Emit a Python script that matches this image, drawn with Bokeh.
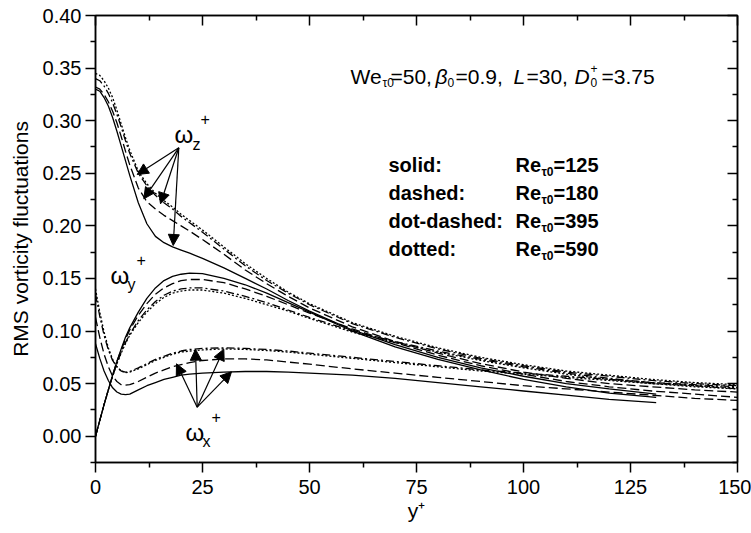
from bokeh.plotting import figure
from bokeh.models import Range1d, FixedTicker, LinearAxis, Label, Arrow, NormalHead, PrintfTickFormatter
from bokeh.embed import file_html
from bokeh.resources import INLINE

# ---------------- data ----------------
X_SOLID = [0, 1, 2, 3, 4, 5, 6, 7, 8, 10, 12, 14, 16, 18, 20, 22, 25, 30, 35, 40, 45, 50,
           60, 70, 80, 90, 100, 110, 120, 131]
X_OTHER = [0, 1, 2, 3, 4, 5, 6, 7, 8, 10, 12, 14, 16, 18, 20, 22, 25, 30, 35, 40, 45, 50,
           60, 70, 80, 90, 100, 110, 120, 130, 140, 150]

# omega_z+
WZ_125 = [0.330, 0.328, 0.322, 0.314, 0.303, 0.290, 0.276, 0.262, 0.248, 0.222, 0.202, 0.190,
          0.184, 0.180, 0.177, 0.174, 0.169, 0.160, 0.150, 0.140, 0.129, 0.119,
          0.101, 0.087, 0.075, 0.065, 0.057, 0.050, 0.045, 0.040]
WZ_180 = [0.332, 0.330, 0.325, 0.318, 0.309, 0.298, 0.285, 0.271, 0.258, 0.236, 0.223, 0.216,
          0.210, 0.205, 0.200, 0.195, 0.187, 0.173, 0.158, 0.145, 0.133, 0.122,
          0.104, 0.090, 0.079, 0.069, 0.061, 0.055, 0.050, 0.047, 0.044, 0.042]
WZ_395 = [0.340, 0.338, 0.333, 0.326, 0.317, 0.306, 0.294, 0.281, 0.269, 0.250, 0.238, 0.229,
          0.222, 0.216, 0.209, 0.203, 0.194, 0.178, 0.162, 0.148, 0.136, 0.125,
          0.107, 0.094, 0.083, 0.074, 0.067, 0.061, 0.057, 0.053, 0.050, 0.048]
WZ_590 = [0.345, 0.343, 0.338, 0.331, 0.322, 0.310, 0.297, 0.284, 0.272, 0.252, 0.240, 0.231,
          0.224, 0.218, 0.211, 0.205, 0.196, 0.180, 0.164, 0.150, 0.137, 0.126,
          0.108, 0.095, 0.084, 0.075, 0.068, 0.062, 0.058, 0.054, 0.051, 0.049]

# omega_y+
WY_125 = [0.000, 0.015, 0.030, 0.044, 0.058, 0.071, 0.083, 0.094, 0.103, 0.118, 0.131, 0.141,
          0.148, 0.152, 0.154, 0.155, 0.1545, 0.150, 0.144, 0.136, 0.127, 0.118,
          0.100, 0.085, 0.073, 0.063, 0.054, 0.047, 0.041, 0.037]
WY_180 = [0.000, 0.015, 0.030, 0.044, 0.058, 0.071, 0.082, 0.092, 0.101, 0.115, 0.126, 0.135,
          0.141, 0.145, 0.148, 0.149, 0.149, 0.146, 0.140, 0.133, 0.125, 0.117,
          0.102, 0.089, 0.077, 0.067, 0.059, 0.052, 0.047, 0.043, 0.040, 0.037]
WY_395 = [0.000, 0.015, 0.030, 0.044, 0.057, 0.069, 0.080, 0.089, 0.097, 0.110, 0.120, 0.128,
          0.134, 0.138, 0.140, 0.141, 0.141, 0.138, 0.133, 0.127, 0.120, 0.113,
          0.100, 0.090, 0.081, 0.073, 0.066, 0.060, 0.055, 0.051, 0.048, 0.045]
WY_590 = [0.000, 0.015, 0.030, 0.044, 0.057, 0.069, 0.079, 0.088, 0.096, 0.108, 0.118, 0.126,
          0.132, 0.136, 0.138, 0.139, 0.139, 0.136, 0.131, 0.125, 0.119, 0.112,
          0.099, 0.089, 0.080, 0.072, 0.065, 0.059, 0.054, 0.050, 0.047, 0.045]

# omega_x+
WX_125 = [0.088, 0.074, 0.062, 0.053, 0.046, 0.042, 0.040, 0.0395, 0.040, 0.044, 0.048, 0.051,
          0.054, 0.056, 0.058, 0.059, 0.060, 0.061, 0.0615, 0.0615, 0.061, 0.060,
          0.058, 0.055, 0.051, 0.047, 0.043, 0.039, 0.035, 0.032]
WX_180 = [0.113, 0.094, 0.078, 0.066, 0.057, 0.052, 0.049, 0.0485, 0.049, 0.052, 0.056, 0.060,
          0.063, 0.066, 0.068, 0.070, 0.072, 0.0735, 0.0735, 0.0725, 0.0705, 0.0685,
          0.064, 0.060, 0.056, 0.052, 0.048, 0.045, 0.042, 0.039, 0.036, 0.034]
WX_395 = [0.135, 0.114, 0.096, 0.082, 0.072, 0.066, 0.062, 0.061, 0.0615, 0.065, 0.069, 0.073,
          0.076, 0.079, 0.081, 0.0825, 0.0835, 0.084, 0.0835, 0.0825, 0.081, 0.079,
          0.075, 0.071, 0.067, 0.063, 0.060, 0.057, 0.054, 0.051, 0.049, 0.047]
WX_590 = [0.140, 0.118, 0.099, 0.084, 0.073, 0.066, 0.062, 0.0605, 0.061, 0.064, 0.068, 0.072,
          0.075, 0.078, 0.080, 0.081, 0.082, 0.083, 0.0825, 0.0815, 0.080, 0.078,
          0.074, 0.070, 0.066, 0.062, 0.059, 0.056, 0.053, 0.050, 0.048, 0.046]

X_TICKS = [0, 25, 50, 75, 100, 125, 150]
X_MINOR = [12.5, 37.5, 62.5, 87.5, 112.5, 137.5]
Y_TICKS = [0.00, 0.05, 0.10, 0.15, 0.20, 0.25, 0.30, 0.35, 0.40]
Y_MINOR = [-0.025, 0.025, 0.075, 0.125, 0.175, 0.225, 0.275, 0.325, 0.375]

# ---------------- figure ----------------
FONT = "Liberation Sans"
XR = (0, 150)
YR = (-0.025, 0.40)
FL, FT, FW, FH = 95, 15, 642, 447   # frame position in page pixels (for annotation placement)

p = figure(width=751, height=533, x_range=Range1d(*XR), y_range=Range1d(*YR),
           output_backend="svg", toolbar_location=None,
           min_border_left=FL, min_border_right=751 - FL - FW, min_border_top=FT,
           min_border_bottom=533 - FT - FH)
p.xgrid.visible = False
p.ygrid.visible = False
p.outline_line_color = "black"
p.outline_line_width = 1.5
p.background_fill_color = "white"
p.border_fill_color = "white"


def px(x):
    return XR[0] + (x - FL) / FW * (XR[1] - XR[0])


def py(y):
    return YR[1] - (y - FT) / FH * (YR[1] - YR[0])


def style_axis(ax, ticks, minor, inward, labels):
    ax.ticker = FixedTicker(ticks=ticks, minor_ticks=minor)
    ax.axis_line_width = 1.5
    ax.major_tick_line_width = 1.5
    ax.minor_tick_line_width = 1.5
    if inward:
        ax.major_tick_in, ax.major_tick_out = 10, 0
        ax.minor_tick_in, ax.minor_tick_out = 5, 0
    else:
        ax.major_tick_in, ax.major_tick_out = 0, 10
        ax.minor_tick_in, ax.minor_tick_out = 0, 5
    if labels:
        ax.major_label_text_font = FONT
        ax.major_label_text_font_size = "20px"
        ax.major_label_text_color = "black"
        ax.axis_label_text_font = FONT
        ax.axis_label_text_font_size = "21px"
        ax.axis_label_text_font_style = "normal"
        ax.axis_label_text_color = "black"
    else:
        ax.major_label_text_color = None
        ax.major_label_standoff = 0


xa = p.xaxis[0]
style_axis(xa, X_TICKS, X_MINOR, False, True)
xa.axis_label = "y⁺"
xa.major_label_standoff = 7
xa.axis_label_standoff = 2

ya = p.yaxis[0]
style_axis(ya, Y_TICKS, Y_MINOR, False, True)
ya.formatter = PrintfTickFormatter(format="%.2f")
ya.axis_label = "RMS vorticity fluctuations"
ya.major_label_standoff = 4
ya.axis_label_standoff = 8

top = LinearAxis()
style_axis(top, X_TICKS, X_MINOR, True, False)
p.add_layout(top, "above")
right = LinearAxis()
style_axis(right, Y_TICKS, Y_MINOR, True, False)
p.add_layout(right, "right")

# ---------------- curves ----------------
DASH = {"125": "solid", "180": "9 4", "395": "8 3 2 3", "590": "2 2"}
series = [
    (X_SOLID, WZ_125, "125"), (X_OTHER, WZ_180, "180"), (X_OTHER, WZ_395, "395"), (X_OTHER, WZ_590, "590"),
    (X_SOLID, WY_125, "125"), (X_OTHER, WY_180, "180"), (X_OTHER, WY_395, "395"), (X_OTHER, WY_590, "590"),
    (X_SOLID, WX_125, "125"), (X_OTHER, WX_180, "180"), (X_OTHER, WX_395, "395"), (X_OTHER, WX_590, "590"),
]
for xs, ys, re in series:
    p.line(xs, ys, line_color="black", line_width=1.3, line_dash=DASH[re])


# ---------------- annotations ----------------
def lab(x, y, text, size=20, style="normal", bold=False):
    p.add_layout(Label(x=px(x), y=py(y), text=text, text_font=FONT,
                       text_font_size=f"{size}px",
                       text_font_style=("bold" if bold else style),
                       text_color="black", text_baseline="alphabetic", text_align="left"))


# header line
lab(350, 76, "We", 21)
lab(382, 82, "τ0", 12)
lab(390, 76, "=50,", 21)
lab(435, 76, "β", 21, style="italic")
lab(447, 82, "0", 12)
lab(455, 76, "=0.9,", 21)
lab(513, 76, "L", 21, style="italic")
lab(526, 76, "=30,", 21)
lab(574, 76, "D", 21, style="italic")
lab(590, 68, "+", 12)
lab(590, 82, "0", 12)
lab(601, 76, "=3.75", 21)

# legend text
rows = [("solid:", "125"), ("dashed:", "180"), ("dot-dashed:", "395"), ("dotted:", "590")]
for i, (name, re) in enumerate(rows):
    base = 164 + i * 28.3
    lab(388, base, name, 20, bold=True)
    lab(515, base, "Re", 20, bold=True)
    lab(541, base + 7, "τ0", 12, bold=True)
    lab(553, base, "=" + re, 20, bold=True)

# omega labels
lab(174, 134, "ω", 24)
lab(192, 144, "z", 16)
lab(200, 118, "+", 16)
lab(110, 275, "ω", 24)
lab(127, 284, "y", 16)
lab(136, 259, "+", 16)
lab(185, 432, "ω", 24)
lab(202, 441, "x", 16)
lab(211, 416, "+", 16)


def arrow(x0, y0, x1, y1):
    p.add_layout(Arrow(end=NormalHead(size=11, fill_color="black", line_color="black"),
                       x_start=px(x0), y_start=py(y0), x_end=px(x1), y_end=py(y1),
                       line_color="black", line_width=1.2))


for ex, ey in [(136.7, 174), (143.3, 198.3), (160, 203.3), (172.7, 245)]:
    arrow(178.3, 147.3, ex, ey)
for ex, ey in [(176, 363.3), (195, 348.7), (223.3, 348.7), (231, 371.3)]:
    arrow(196.7, 406.7, ex, ey)

open("out.html", "w").write(file_html(p, INLINE))
